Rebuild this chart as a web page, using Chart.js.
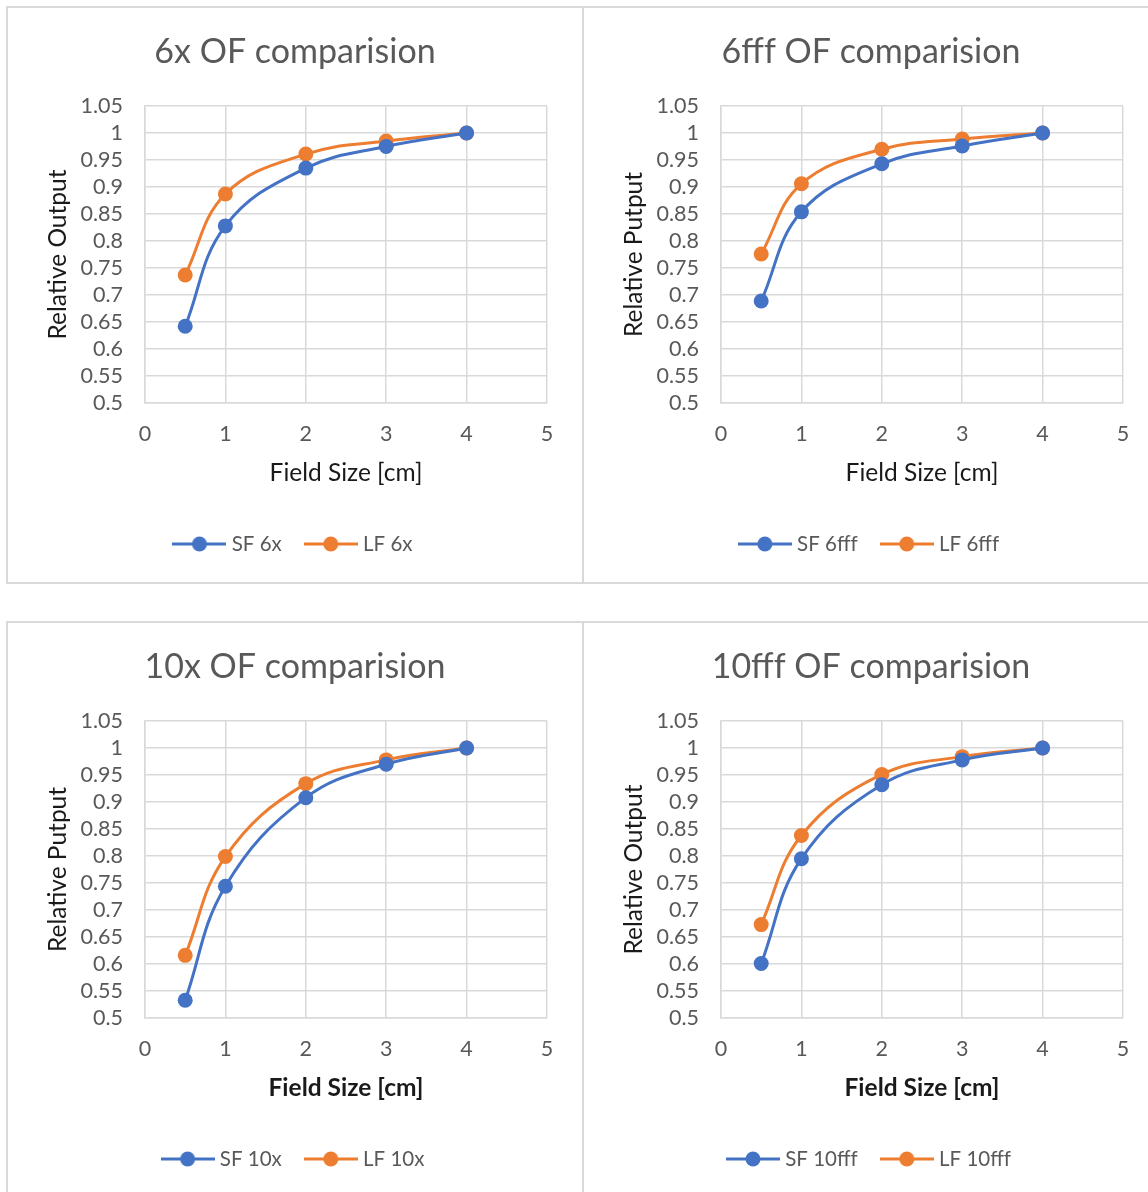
<!DOCTYPE html>
<html>
<head>
<meta charset="utf-8">
<script src="https://cdn.jsdelivr.net/npm/chart.js@4"></script>
<style>
  html, body { margin: 0; padding: 0; background: #fff; overflow: hidden; }
  body { width: 1148px; height: 1192px; position: relative; }
  .panel { position: absolute; width: 574px; height: 574px; border: 2px solid #d9d9d9; background: #fff; }
  .panel canvas { display: block; }
</style>
</head>
<body>
<div class="panel" style="left:6px;top:6px"><canvas id="c1" width="574" height="574"></canvas></div>
<div class="panel" style="left:582px;top:6px"><canvas id="c2" width="574" height="574"></canvas></div>
<div class="panel" style="left:6px;top:621px"><canvas id="c3" width="574" height="574"></canvas></div>
<div class="panel" style="left:582px;top:621px"><canvas id="c4" width="574" height="574"></canvas></div>
<script>
// field sizes in cm
const fieldSizes = [0.5, 1, 2, 3, 4];
const xTicks = [0, 1, 2, 3, 4, 5];
const yTicks = [0.5, 0.55, 0.6, 0.65, 0.7, 0.75, 0.8, 0.85, 0.9, 0.95, 1, 1.05];

// relative output
const sf6x    = [0.642, 0.828, 0.935, 0.975, 1];
const lf6x    = [0.737, 0.887, 0.961, 0.985, 1];
const sf6fff  = [0.689, 0.854, 0.943, 0.976, 1];
const lf6fff  = [0.776, 0.906, 0.970, 0.989, 1];
const sf10x   = [0.533, 0.744, 0.908, 0.970, 1];
const lf10x   = [0.616, 0.799, 0.934, 0.978, 1];
const sf10fff = [0.601, 0.795, 0.932, 0.978, 1];
const lf10fff = [0.673, 0.838, 0.951, 0.984, 1];

const BLUE = '#4472C4';
const ORANGE = '#ED7D31';
const FONT = 'Lato, "Open Sans", sans-serif';
const GRID = '#d9d9d9';

// little line+marker image for the legend, like excel
function legendIcon(color) {
  const c = document.createElement('canvas');
  c.width = 54; c.height = 16;
  const g = c.getContext('2d');
  g.strokeStyle = color;
  g.lineWidth = 3;
  g.beginPath(); g.moveTo(0, 8); g.lineTo(54, 8); g.stroke();
  g.fillStyle = color;
  g.beginPath(); g.arc(27, 8, 7.5, 0, Math.PI * 2); g.fill();
  return c;
}

function pts(ys) {
  return fieldSizes.map((x, i) => ({ x: x, y: ys[i] }));
}

function makeChart(id, title, yTitle, boldX, sfName, sfData, lfName, lfData) {
  const ctx = document.getElementById(id).getContext('2d');
  const series = (label, data, color) => ({
    label, data: pts(data),
    borderColor: color, backgroundColor: color,
    borderWidth: 3, pointRadius: 7.5, pointHoverRadius: 7.5,
    pointBorderWidth: 0, showLine: true, tension: 0.4, fill: false
  });
  new Chart(ctx, {
    type: 'scatter',
    data: {
      datasets: [series(sfName, sfData, BLUE), series(lfName, lfData, ORANGE)]
    },
    options: {
      responsive: false,
      animation: false,
      layout: { padding: { left: 0, right: 0, top: 0, bottom: 17.75 } },
      plugins: {
        tooltip: { enabled: false },
        title: {
          display: true, text: title, color: '#595959',
          font: { family: FONT, size: 34, weight: 'normal' },
          padding: { top: 23.6, bottom: 33.6 }
        },
        legend: {
          position: 'bottom',
          labels: {
            usePointStyle: true, pointStyleWidth: 44, padding: 27,
            color: '#595959', font: { family: FONT, size: 20.5 },
            generateLabels: (chart) => chart.data.datasets.map((ds, i) => ({
              text: ds.label, fillStyle: ds.borderColor, strokeStyle: ds.borderColor,
              lineWidth: 0, pointStyle: legendIcon(ds.borderColor),
              hidden: false, datasetIndex: i, fontColor: '#595959'
            }))
          }
        }
      },
      scales: {
        x: {
          type: 'linear', min: 0, max: 5,
          afterBuildTicks: (s) => { s.ticks = xTicks.map(v => ({ value: v })); },
          afterFit: (s) => { s.height = 103.75; },
          grid: { color: GRID, lineWidth: 1.5, drawTicks: false },
          border: { color: GRID, width: 1.5 },
          ticks: { color: '#595959', font: { family: FONT, size: 21.5 }, padding: 18, autoSkip: false },
          title: {
            display: true, text: 'Field Size [cm]', color: '#1a1a1a',
            font: { family: FONT, size: 24.5, weight: boldX ? 'bold' : 'normal' },
            padding: { top: 0, bottom: 19 }
          }
        },
        y: {
          type: 'linear', min: 0.5, max: 1.05,
          afterBuildTicks: (s) => { s.ticks = yTicks.map(v => ({ value: v })); },
          afterFit: (s) => { s.width = 137; },
          grid: { color: GRID, lineWidth: 1.5, drawTicks: false },
          border: { color: GRID, width: 1.5 },
          ticks: {
            color: '#595959', font: { family: FONT, size: 21.5 }, padding: 22, autoSkip: false,
            callback: (v) => String(Number(v.toFixed(2)))
          },
          title: {
            display: true, text: yTitle, color: '#1a1a1a',
            font: { family: FONT, size: 24.5, weight: 'normal' },
            padding: { top: 35.3, bottom: 0 }
          }
        },
        // empty right-hand spacer so title and legend stay centred on the whole panel
        spacer: {
          type: 'linear', position: 'right', display: true,
          afterFit: (s) => { s.width = 35; },
          grid: { display: false },
          border: { display: false },
          ticks: { display: false }
        }
      }
    }
  });
}

makeChart('c1', '6x OF comparision', 'Relative Output', false, 'SF 6x', sf6x, 'LF 6x', lf6x);
makeChart('c2', '6fff OF comparision', 'Relative Putput', false, 'SF 6fff', sf6fff, 'LF 6fff', lf6fff);
makeChart('c3', '10x OF comparision', 'Relative Putput', true, 'SF 10x', sf10x, 'LF 10x', lf10x);
makeChart('c4', '10fff OF comparision', 'Relative Output', true, 'SF 10fff', sf10fff, 'LF 10fff', lf10fff);
</script>
</body>
</html>
